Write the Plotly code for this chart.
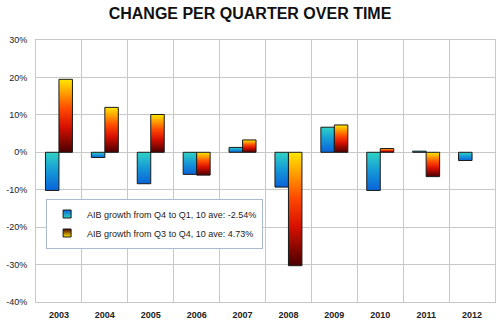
import plotly.graph_objects as go

years = ["2003", "2004", "2005", "2006", "2007", "2008", "2009", "2010", "2011", "2012"]
q4_to_q1 = [-10.2, -1.4, -8.4, -5.9, 1.3, -9.3, 6.7, -10.2, 0.3, -2.2]
q3_to_q4 = [19.5, 12.0, 10.1, -6.1, 3.3, -30.3, 7.3, 1.0, -6.5, None]
series_names = ["AIB growth from Q4 to Q1, 10 ave: -2.54%",
                "AIB growth from Q3 to Q4, 10 ave: 4.73%"]
y_ticks = [-40, -30, -20, -10, 0, 10, 20, 30]

blue_cs = [[0, "#0a63d8"], [0.5, "#1598d8"], [1, "#2fd3c4"]]
orange_cs = [[0, "#4a0000"], [0.35, "#d81000"], [0.6, "#ff4a00"], [1, "#ffe800"]]

BAR_W = 0.294
fig = go.Figure()

for s, (vals, cs, off) in enumerate([(q4_to_q1, blue_cs, -BAR_W), (q3_to_q4, orange_cs, 0.0)]):
    for i, v in enumerate(vals):
        if v is None:
            continue
        x0 = i + off
        x1 = x0 + BAR_W
        fig.add_trace(go.Scatter(
            x=[x0, x1, x1, x0, x0], y=[0, 0, v, v, 0],
            mode="lines", fill="toself",
            line=dict(color="#1a1a1a", width=1),
            fillgradient=dict(type="vertical", colorscale=cs,
                              start=min(0, v), stop=max(0, v)),
            name=series_names[s], legendgroup=f"s{s}",
            showlegend=False, hoverinfo="skip",
        ))
    # legend entry: small gradient square
    fig.add_trace(go.Scatter(
        x=[None], y=[None], mode="markers",
        marker=dict(symbol="square", size=8, color=cs[0][1],
                    gradient=dict(type="vertical", color=cs[-1][1]),
                    line=dict(color="#1a1a1a", width=1)),
        name=series_names[s], legendgroup=f"s{s}", showlegend=True,
    ))

fig.update_layout(
    width=500, height=325,
    margin=dict(l=36, r=5, t=40, b=23),
    paper_bgcolor="white", plot_bgcolor="white",
    title=dict(text="<b>CHANGE PER QUARTER OVER TIME</b>", x=0.5, xanchor="center",
               y=0.958, yanchor="middle",
               font=dict(family="Liberation Sans", size=16, color="#111111")),
    font=dict(family="Liberation Sans", size=9, color="#222222"),
    legend=dict(x=0.022, y=0.395, xanchor="left", yanchor="top",
                bgcolor="white", bordercolor="#a9bccf", borderwidth=1,
                font=dict(size=9, color="#222222"), tracegroupgap=0,
                itemwidth=30),
    xaxis=dict(range=[-0.5, 9.5], tickmode="array", tickvals=list(range(len(years))),
               ticktext=[f"<b>{y}</b>" for y in years], showgrid=False,
               zeroline=False, showline=True, mirror=True, linecolor="#c8c8c8",
               ticks="", ticklabelstandoff=4,
               minor=dict(tickmode="array", tickvals=[i - 0.5 for i in range(len(years) + 1)],
                          showgrid=True, gridcolor="#c8c8c8", gridwidth=1, ticks="")),
    yaxis=dict(range=[-40, 30], tickmode="array", tickvals=y_ticks,
               ticktext=[f"{t}%" for t in y_ticks], showgrid=True, gridcolor="#c8c8c8",
               zeroline=False, showline=True, mirror=True, linecolor="#c8c8c8",
               ticks="", ticklabelstandoff=6),
)

fig.write_html("out.html")
